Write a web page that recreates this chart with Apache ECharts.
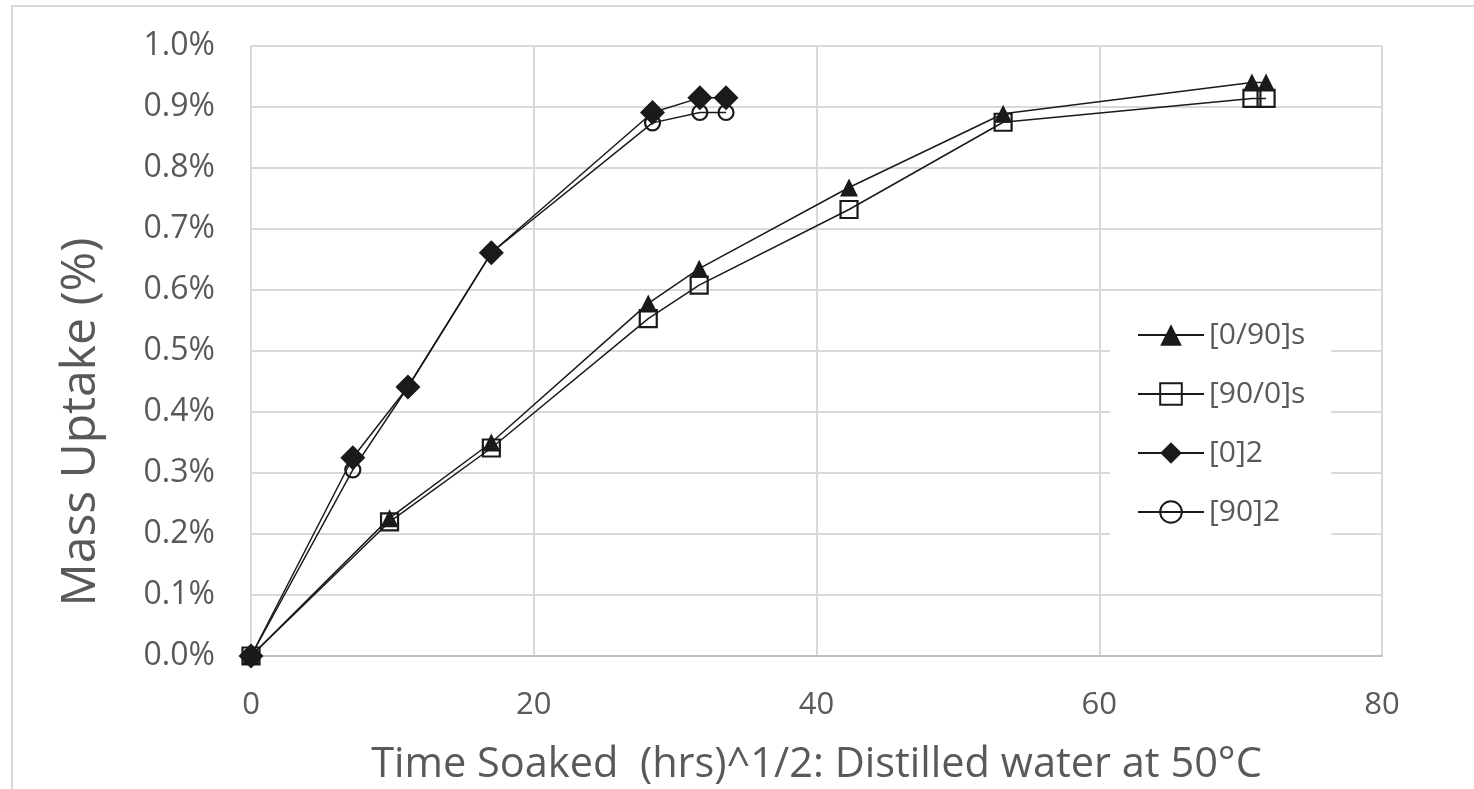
<!DOCTYPE html>
<html>
<head>
<meta charset="utf-8">
<title>Mass uptake vs square root of soak time</title>
<script src="https://cdn.jsdelivr.net/npm/echarts@6/dist/echarts.min.js"></script>
<style>
  html, body { margin: 0; padding: 0; background: #fff; }
  #chart { width: 1474px; height: 789px; }
</style>
</head>
<body>
<div id="chart"></div>
<script>
// Square root of soak time, hrs^1/2
const xUnidirectional = [0, 7.2, 11.1, 17.0, 28.4, 31.75, 33.6];
const xCrossPly = [0, 9.8, 17.0, 28.1, 31.7, 42.3, 53.2, 70.8, 71.8];

// Mass uptake, percent
const uptake_0_90s = [0, 0.226, 0.350, 0.578, 0.635, 0.768, 0.889, 0.940, 0.940];
const uptake_90_0s = [0, 0.220, 0.341, 0.553, 0.608, 0.732, 0.875, 0.914, 0.914];
const uptake_0_2 = [0, 0.325, 0.441, 0.661, 0.891, 0.915, 0.915];
const uptake_90_2 = [0, 0.305, 0.441, 0.661, 0.874, 0.891, 0.891];

const seriesNames = ['[0/90]s', '[90/0]s', '[0]2', '[90]2'];
const xTicks = { min: 0, max: 80, interval: 20 };
const yTicks = { min: 0, max: 1.0, interval: 0.1 };

const xTitle = 'Time Soaked  (hrs)^1/2: Distilled water at 50°C';
const yTitle = 'Mass Uptake (%)';

function pairs(xs, ys) { return xs.map((x, i) => [x, ys[i]]); }

const FONT = 'Open Sans';
const TEXT = '#595959';
const GRID = '#d9d9d9';
const INK = '#1a1a1a';

const lineStyle = { color: INK, width: 1.5 };

function makeSeries(name, data, symbol, size, filled) {
  return {
    name: name,
    type: 'line',
    data: data,
    symbol: symbol,
    symbolSize: size,
    showAllSymbol: true,
    lineStyle: lineStyle,
    itemStyle: {
      color: filled ? INK : 'rgba(255,255,255,0)',
      borderColor: INK,
      borderWidth: filled ? 0 : 2.2
    },
    emphasis: { disabled: true },
    animation: false
  };
}

const chart = echarts.init(document.getElementById('chart'), null, { renderer: 'canvas' });

chart.setOption({
  backgroundColor: '#fff',
  animation: false,
  textStyle: { fontFamily: FONT },
  graphic: [{
    type: 'rect',
    shape: { x: 12, y: 6, width: 1500, height: 820 },
    style: { fill: 'none', stroke: GRID, lineWidth: 2 },
    silent: true
  }],
  grid: { left: 251, right: 92, top: 46, bottom: 133, containLabel: false, outerBoundsMode: 'none' },
  legend: {
    orient: 'vertical',
    left: 1110,
    top: 300,
    padding: [20, 26, 33, 27],
    backgroundColor: '#fff',
    itemWidth: 66,
    itemHeight: 27,
    itemGap: 29,
    textStyle: { color: TEXT, fontSize: 30, fontFamily: FONT, lineHeight: 30 },
    data: seriesNames
  },
  xAxis: {
    type: 'value',
    min: xTicks.min,
    max: xTicks.max,
    interval: xTicks.interval,
    name: xTitle,
    nameLocation: 'middle',
    nameGap: 88,
    nameTextStyle: { color: TEXT, fontSize: 41.5, fontFamily: FONT },
    axisLine: { show: true, lineStyle: { color: '#bfbfbf', width: 2 } },
    axisTick: { show: false },
    axisLabel: { color: TEXT, fontSize: 31, margin: 34, fontFamily: FONT },
    splitLine: { show: true, lineStyle: { color: GRID, width: 2 } }
  },
  yAxis: {
    type: 'value',
    min: yTicks.min,
    max: yTicks.max,
    interval: yTicks.interval,
    name: yTitle,
    nameLocation: 'middle',
    nameGap: 146,
    nameRotate: 90,
    nameTextStyle: { color: TEXT, fontSize: 48, fontFamily: FONT, padding: [0, 142, 0, 0] },
    axisLine: { show: false },
    axisTick: { show: false },
    axisLabel: {
      color: TEXT, fontSize: 32, margin: 36, fontFamily: FONT,
      formatter: v => v.toFixed(1) + '%'
    },
    splitLine: { show: true, lineStyle: { color: GRID, width: 2 } }
  },
  series: [
    makeSeries(seriesNames[0], pairs(xCrossPly, uptake_0_90s), 'triangle', 18, true),
    makeSeries(seriesNames[1], pairs(xCrossPly, uptake_90_0s), 'rect', 17, false),
    makeSeries(seriesNames[2], pairs(xUnidirectional, uptake_0_2), 'diamond', 25, true),
    makeSeries(seriesNames[3], pairs(xUnidirectional, uptake_90_2), 'circle', 15, false)
  ]
});
</script>
</body>
</html>
